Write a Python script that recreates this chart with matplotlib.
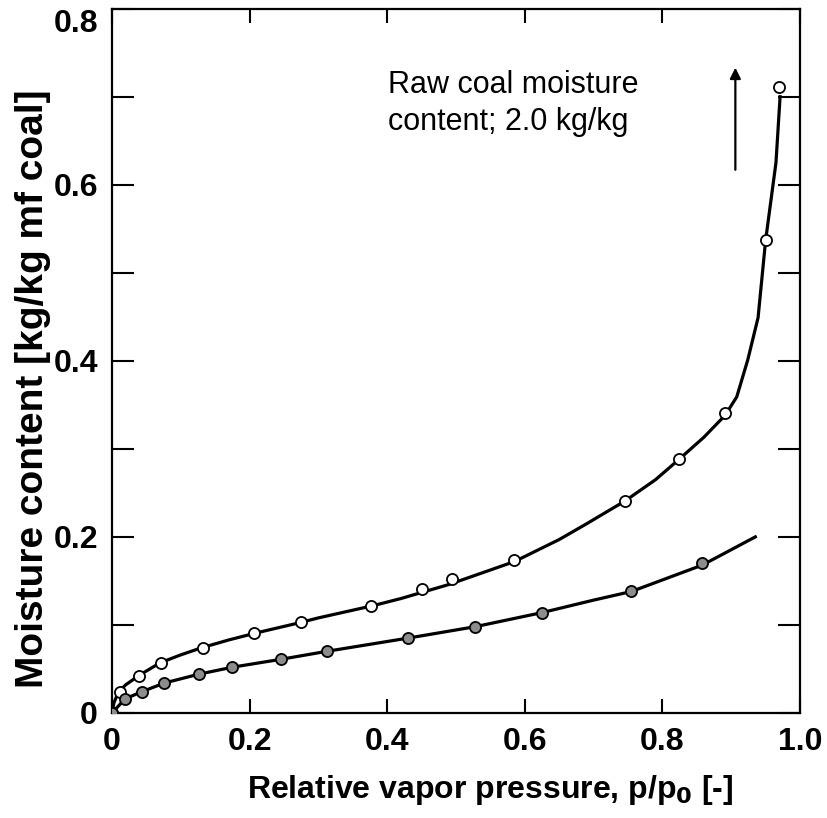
import matplotlib.pyplot as plt
from matplotlib.ticker import MultipleLocator, FuncFormatter

# measured sorption points (open circles: upper set, shaded circles: lower set)
upper_x = [0.0, 0.011, 0.040, 0.071, 0.132, 0.206, 0.274, 0.377, 0.451, 0.494,
           0.585, 0.746, 0.824, 0.891, 0.950, 0.970]
upper_y = [0.0, 0.024, 0.042, 0.057, 0.074, 0.091, 0.103, 0.121, 0.141, 0.152,
           0.174, 0.241, 0.288, 0.341, 0.537, 0.711]

lower_x = [0.0, 0.019, 0.043, 0.076, 0.126, 0.175, 0.246, 0.312, 0.430, 0.528,
           0.625, 0.755, 0.858]
lower_y = [0.0, 0.016, 0.024, 0.034, 0.044, 0.052, 0.061, 0.070, 0.085, 0.098,
           0.114, 0.138, 0.170]

# hand-fitted curves through each set
upper_fit_x = [0.0, 0.003, 0.008, 0.011, 0.02, 0.04, 0.07, 0.10, 0.13, 0.17, 0.21,
               0.27, 0.30, 0.38, 0.42, 0.49, 0.585, 0.65, 0.69, 0.746, 0.79, 0.824,
               0.86, 0.891, 0.908, 0.924, 0.939, 0.950, 0.965, 0.971]
upper_fit_y = [0.0, 0.012, 0.021, 0.025, 0.032, 0.043, 0.057, 0.066, 0.074, 0.083,
               0.091, 0.102, 0.108, 0.122, 0.130, 0.146, 0.172, 0.197, 0.215, 0.241,
               0.265, 0.288, 0.313, 0.338, 0.359, 0.401, 0.449, 0.537, 0.625, 0.700]

lower_fit_x = [0.0, 0.019, 0.043, 0.076, 0.126, 0.175, 0.246, 0.312, 0.430, 0.528,
               0.625, 0.699, 0.755, 0.858, 0.935]
lower_fit_y = [0.0, 0.016, 0.024, 0.034, 0.044, 0.052, 0.061, 0.070, 0.085, 0.098,
               0.114, 0.128, 0.138, 0.168, 0.200]

arrow_x = 0.906
arrow_y = (0.617, 0.733)
note = "Raw coal moisture\ncontent; 2.0 kg/kg"

plt.rcParams['font.family'] = ['Liberation Sans', 'DejaVu Sans']

fig = plt.figure(figsize=(8.27, 8.18), dpi=100)
ax = fig.add_axes([0.1354, 0.1284, 0.832, 0.861])

ax.plot(upper_fit_x, upper_fit_y, color='black', lw=2.3, zorder=2)
ax.plot(lower_fit_x, lower_fit_y, color='black', lw=2.3, zorder=2)

ax.plot(upper_x, upper_y, 'o', ms=8, mfc='white', mec='black', mew=1.3, zorder=3)
ax.plot(lower_x, lower_y, 'o', ms=8, mfc='0.55', mec='black', mew=1.3, zorder=3)

ax.annotate('', xy=(arrow_x, arrow_y[1]), xytext=(arrow_x, arrow_y[0]),
            arrowprops=dict(arrowstyle='-|>', color='black', lw=1.6,
                            mutation_scale=16, shrinkA=0, shrinkB=0))
ax.text(0.401, 0.730, note, fontsize=22, ha='left', va='top', linespacing=1.3)


def tick_fmt(v, pos):
    return '0' if abs(v) < 1e-9 else f'{v:.1f}'


ax.set_xlim(0, 1.0)
ax.set_ylim(0, 0.8)
ax.xaxis.set_major_locator(MultipleLocator(0.2))
ax.yaxis.set_major_locator(MultipleLocator(0.2))
ax.yaxis.set_minor_locator(MultipleLocator(0.1))
ax.xaxis.set_major_formatter(FuncFormatter(tick_fmt))
ax.yaxis.set_major_formatter(FuncFormatter(tick_fmt))

ax.tick_params(axis='both', which='both', direction='in', top=True, right=True,
               width=1.5, labelsize=23)
ax.tick_params(axis='x', which='major', length=10, pad=10)
ax.tick_params(axis='y', which='both', length=16, pad=10)

for sp in ax.spines.values():
    sp.set_linewidth(1.6)

ax.set_xlabel('Relative vapor pressure, p/p$_\\mathbf{0}$ [-]', fontsize=23,
              fontweight='bold')
ax.xaxis.set_label_coords(0.55, -0.085)
ax.set_ylabel('Moisture content [kg/kg mf coal]', fontsize=28, fontweight='bold')
ax.yaxis.set_label_coords(-0.089, 0.46)

# bold tick labels; the top y label hangs below its tick so it stays on the canvas
fig.canvas.draw()
for lbl in ax.get_xticklabels() + ax.get_yticklabels():
    lbl.set_fontweight('bold')
top_lbl = [t for t in ax.get_yticklabels() if t.get_text() == '0.8']
for t in top_lbl:
    t.set_verticalalignment('top')

fig.savefig('out.png', dpi=100)
